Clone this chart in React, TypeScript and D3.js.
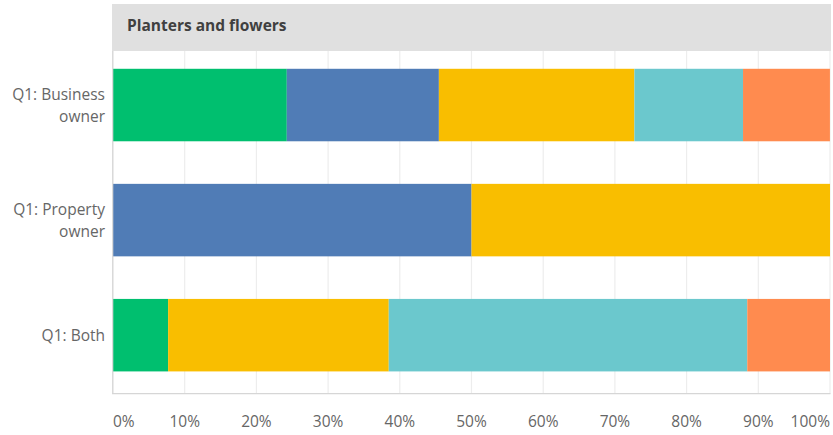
import React from "react";
import * as d3 from "d3";

const title = "Planters and flowers";
const categories = ["Q1: Business owner", "Q1: Property owner", "Q1: Both"];
const categoryLines = [["Q1: Business", "owner"], ["Q1: Property", "owner"], ["Q1: Both"]];
const seriesNames = ["A", "B", "C", "D", "E"];
const seriesColors = ["#00BF6F", "#507CB6", "#F9BE00", "#6BC8CD", "#FF8B4F"];
// percent values per category, per series
const seriesA = [24.24, 0, 7.69];
const seriesB = [21.21, 50.0, 0];
const seriesC = [27.27, 50.0, 30.77];
const seriesD = [15.15, 0, 50.0];
const seriesE = [12.12, 0, 11.54];
const tickValues = [0, 10, 20, 30, 40, 50, 60, 70, 80, 90, 100];
const tickLabels = ["0%", "10%", "20%", "30%", "40%", "50%", "60%", "70%", "80%", "90%", "100%"];

const W = 833;
const H = 435;
const FONT = "'Open Sans', sans-serif";

export default function App() {
  const x = d3.scaleLinear().domain([0, 100]).range([113, 830]);
  const y = d3.scaleBand<string>().domain(categories).range([47.5, 392.7]).paddingInner(0.37).paddingOuter(0.185);

  const rows = categories.map((c, i) => {
    const o: any = { cat: c };
    o.A = seriesA[i];
    o.B = seriesB[i];
    o.C = seriesC[i];
    o.D = seriesD[i];
    o.E = seriesE[i];
    return o;
  });
  const stacked = d3.stack<any>().keys(seriesNames)(rows);

  const plotTop = 51;
  const plotBottom = 393.7;

  return (
    <svg width={W} height={H} style={{ position: "absolute", left: 0, top: 0, background: "#fff" }}>
      <rect x={112} y={4} width={719} height={47} fill="#E0E0E0" />
      <text x={127} y={31} fontFamily={FONT} fontSize={15.5} fontWeight={700} fill="#404040">
        {title}
      </text>
      {tickValues.map((t) => (
        <line key={"g" + t} x1={x(t)} x2={x(t)} y1={plotTop} y2={plotBottom} stroke="#EDEDED" strokeWidth={1.2} />
      ))}
      {stacked.map((s, si) =>
        s.map((d, di) =>
          d[1] - d[0] > 0 ? (
            <rect
              key={si + "-" + di}
              x={x(d[0])}
              width={x(d[1]) - x(d[0])}
              y={y(categories[di])}
              height={y.bandwidth()}
              fill={seriesColors[si]}
            />
          ) : null
        )
      )}
      <line x1={112.7} x2={112.7} y1={plotTop} y2={plotBottom} stroke="#D6D6D6" strokeWidth={1.2} />
      <line x1={112} x2={830.5} y1={plotBottom} y2={plotBottom} stroke="#D6D6D6" strokeWidth={1.2} />
      {categories.map((c, i) => {
        const lines = categoryLines[i];
        const cy = (y(c) as number) + y.bandwidth() / 2;
        const lh = 22;
        const start = cy - ((lines.length - 1) * lh) / 2;
        return (
          <text key={c} textAnchor="end" fontFamily={FONT} fontSize={15.5} fill="#666">
            {lines.map((l, li) => (
              <tspan key={li} x={105} y={start + li * lh + 5.5}>
                {l}
              </tspan>
            ))}
          </text>
        );
      })}
      {tickValues.map((t, i) => (
        <text
          key={"t" + t}
          x={x(t)}
          y={427}
          textAnchor={i === 0 ? "start" : i === tickValues.length - 1 ? "end" : "middle"}
          fontFamily={FONT}
          fontSize={15.5}
          fill="#666"
        >
          {tickLabels[i]}
        </text>
      ))}
    </svg>
  );
}
